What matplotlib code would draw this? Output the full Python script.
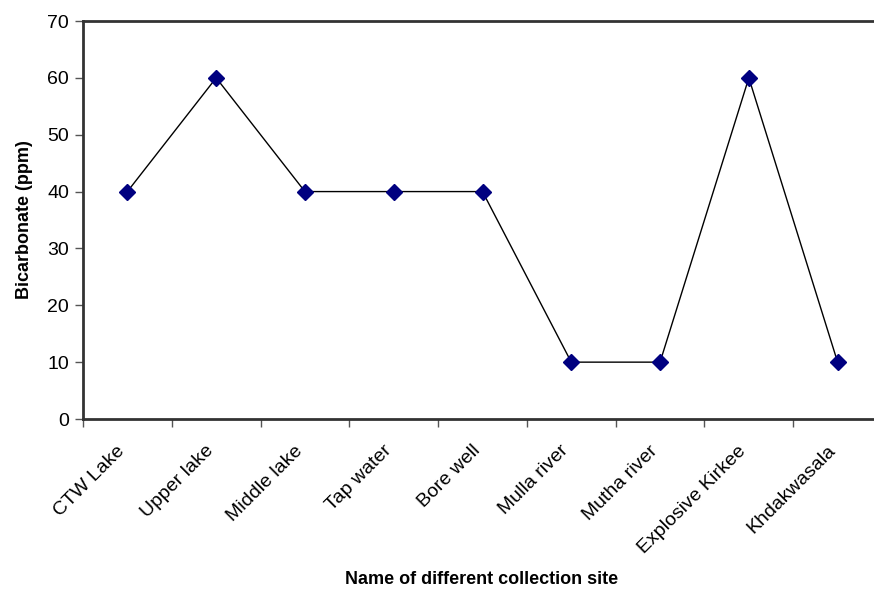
import numpy as np
import matplotlib.pyplot as plt
from matplotlib.transforms import ScaledTranslation

plt.rcParams['font.family'] = ['Liberation Sans', 'DejaVu Sans']

sites = ['CTW Lake', 'Upper lake', 'Middle lake', 'Tap water', 'Bore well',
         'Mulla river', 'Mutha river', 'Explosive Kirkee', 'Khdakwasala']
bicarbonate = [40, 60, 40, 40, 40, 10, 10, 60, 10]


def main():
    fig = plt.figure(figsize=(8.74, 5.89), dpi=100)
    ax = fig.add_axes([83 / 874, 170 / 589, 799 / 874, 398 / 589])

    x = np.arange(len(sites))
    ax.plot(x, bicarbonate, '-', color='black', lw=1.0, zorder=3)
    ax.plot(x, bicarbonate, 'D', color='#000080', ms=8, mec='#000080', zorder=4)

    ax.set_xlim(-0.5, len(sites) - 0.5)
    ax.set_ylim(0, 70)
    ax.set_yticks(range(0, 71, 10))
    ax.tick_params(axis='y', labelsize=14, length=6, width=1, color='#555555', pad=4)

    # category labels sit between the boundary ticks
    ax.set_xticks(x)
    ax.set_xticklabels(sites, rotation=45, ha='right', va='center',
                       rotation_mode='anchor', fontsize=14)
    ax.set_xticks(np.arange(-0.5, len(sites)), minor=True)
    ax.tick_params(axis='x', which='major', length=0, pad=21)
    ax.tick_params(axis='x', which='minor', length=6, width=1, color='#555555')
    shift = ScaledTranslation(-5 / 100, 0, fig.dpi_scale_trans)
    for lbl in ax.get_xticklabels():
        lbl.set_transform(lbl.get_transform() + shift)

    for side in ax.spines.values():
        side.set_linewidth(2)
        side.set_color('#333333')

    ax.set_ylabel('Bicarbonate (ppm)', fontsize=13, fontweight='bold', labelpad=10)
    fig.text(482 / 874, 1 - 580 / 589, 'Name of different collection site',
             fontsize=13, fontweight='bold', ha='center', va='center')

    fig.savefig('out.png', dpi=100)


if __name__ == '__main__':
    main()
